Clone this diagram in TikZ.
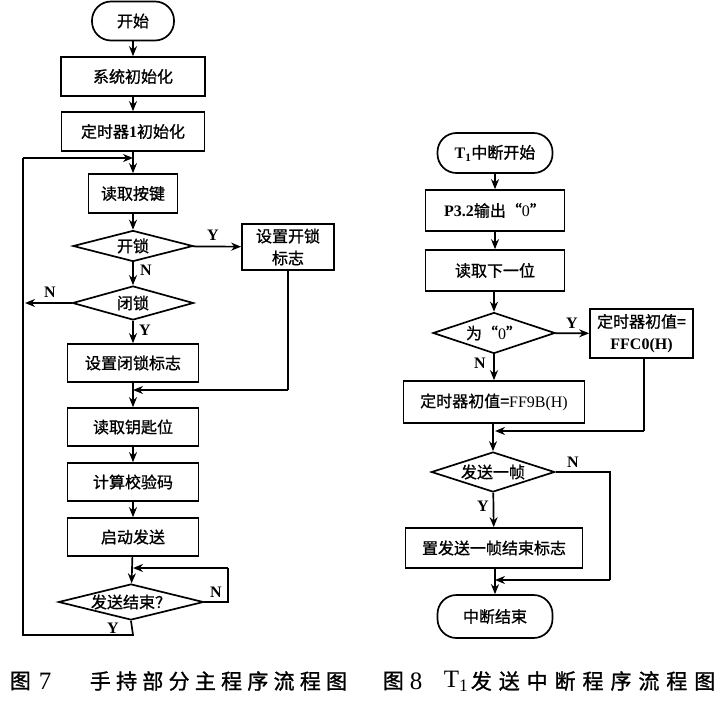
\documentclass[tikz,border=0pt]{standalone}
\usepackage{fontspec}
\setmainfont{Liberation Serif}
\newfontfamily\cjk[FakeBold=1]{Noto Sans CJK SC}
\newfontfamily\capcjka[LetterSpace=25,FakeBold=1.2]{Noto Sans CJK SC}
\newfontfamily\capcjkb[LetterSpace=33,FakeBold=1.2]{Noto Sans CJK SC}
\usetikzlibrary{shapes.geometric,arrows.meta}
\newcommand{\lat}{\rmfamily\bfseries}
\begin{document}
\begin{tikzpicture}[x=1pt,y=-1pt,
  line width=1.7pt,
  procbox/.style={draw, rectangle, inner sep=0pt, align=center, font=\fontsize{16}{22}\selectfont\cjk},
  termbox/.style={draw, rectangle, rounded corners=19pt, inner sep=0pt, font=\fontsize{16}{20}\selectfont\cjk},
  decbox/.style={draw, diamond, aspect=4, inner sep=0pt, font=\fontsize{16}{20}\selectfont\cjk},
  arr/.style={-{Stealth[length=10pt,width=8pt]}},
  lbl/.style={inner sep=0pt, font=\fontsize{16}{16}\selectfont\rmfamily\bfseries},
  capt/.style={anchor=west, inner sep=0pt, font=\fontsize{21}{22}\selectfont},
  captlat/.style={anchor=west, inner sep=0pt, font=\fontsize{25}{26}\selectfont\rmfamily}
]
\fill[white] (0,0) rectangle (722,709);
\useasboundingbox (0,0) rectangle (722,709);

% ---------- Figure 7 ----------
\node[termbox, minimum width=82pt, minimum height=39pt] (s) at (133,21) {开始};
\node[procbox, minimum width=144pt, minimum height=39pt] (sys) at (133,76.5) {系统初始化};
\node[procbox, minimum width=143pt, minimum height=39pt] (tmr) at (133,131.5) {定时器{\lat 1}初始化};
\node[procbox, minimum width=89pt, minimum height=39pt] (key) at (133,193.5) {读取按键};
\node[decbox, minimum width=120pt, minimum height=31pt] (ul) at (133,246) {开锁};
\node[procbox, minimum width=92pt, minimum height=46pt] (sul) at (288,247) {设置开锁\\标志};
\node[decbox, minimum width=121pt, minimum height=34pt] (lk) at (133,303) {闭锁};
\node[procbox, minimum width=131pt, minimum height=38pt] (slk) at (133,363) {设置闭锁标志};
\node[procbox, minimum width=131pt, minimum height=38pt] (rkp) at (133,427) {读取钥匙位};
\node[procbox, minimum width=131pt, minimum height=38pt] (chk) at (133,482) {计算校验码};
\node[procbox, minimum width=131pt, minimum height=38pt] (snd) at (133,537) {启动发送};
\node[decbox, minimum width=145pt, minimum height=36pt] (eq) at (131,602) {发送结束？};

\coordinate (j1) at (133,158);
\coordinate (lb) at (133,635);
\coordinate (lbl) at (23,635);
\coordinate (ltl) at (23,158);
\coordinate (lkl) at (23,303);
\coordinate (sulb) at (288,390);
\coordinate (j2) at (133,390);
\coordinate (eqr) at (228,602);
\coordinate (eqrt) at (228,568);
\coordinate (j3) at (133,568);

\draw[arr] (s) -- (sys);
\draw[arr] (sys) -- (tmr);
\draw[arr] (tmr) -- (key);
\draw[arr] (key) -- (ul);
\draw[arr] (ul) -- (sul);
\draw[arr] (ul) -- (lk);
\draw[arr] (lk.west) -- ([xshift=2pt]lkl);
\draw[arr] (lk) -- (slk);
\draw[arr] (slk) -- (rkp);
\draw (sul) -- (sulb);
\draw[arr] (sulb) -- (j2);
\draw[arr] (rkp) -- (chk);
\draw[arr] (chk) -- (snd);
\draw[arr] (snd) -- (eq);
\draw (eq.east) -- (eqr) -- (eqrt);
\draw[arr] (eqrt) -- (j3);
\draw (eq.south) -- (lb) -- (lbl) -- (ltl);
\draw[arr] (ltl) -- (j1);

\node[lbl] (y1) at (213,235) {Y};
\node[lbl] (n1) at (146,270) {N};
\node[lbl] (n2) at (50,292) {N};
\node[lbl] (y2) at (145,330) {Y};
\node[lbl] (n3) at (216,592) {N};
\node[lbl] (y3) at (113,628) {Y};

% ---------- Figure 8 ----------
\node[termbox, minimum width=115pt, minimum height=40pt] (t) at (495,153) {{\lat T\textsubscript{1}}中断开始};
\node[procbox, minimum width=139pt, minimum height=41pt] (p) at (495,210.5) {{\lat P3.2}输出“{\rmfamily 0}”};
\node[procbox, minimum width=139pt, minimum height=41pt] (rn) at (495,270.5) {读取下一位};
\node[decbox, minimum width=122pt, minimum height=41pt] (z) at (494,333) {为“{\rmfamily 0}”};
\node[procbox, minimum width=103pt, minimum height=49pt] (fc) at (641.5,333.5) {定时器初值=\\{\lat FFC0(H)}};
\node[procbox, minimum width=181pt, minimum height=42pt] (f9) at (494,402) {定时器初值={\rmfamily FF9B(H)}};
\node[decbox, minimum width=121pt, minimum height=40pt] (fr) at (493,472) {发送一帧};
\node[procbox, minimum width=177pt, minimum height=40pt] (sf) at (494,548) {置发送一帧结束标志};
\node[termbox, minimum width=115pt, minimum height=43pt] (e) at (495,616.5) {中断结束};

\coordinate (fcb) at (644,431);
\coordinate (j4) at (495,431);
\coordinate (frr) at (610,472);
\coordinate (frb) at (610,580);
\coordinate (j5) at (495,580);

\draw[arr] (t) -- (p);
\draw[arr] (p) -- (rn);
\draw[arr] (rn.south -| z.north) -- (z);
\draw[arr] (z) -- (fc);
\draw[arr] (z) -- (f9);
\draw (fc.south -| fcb) -- (fcb);
\draw[arr] (fcb) -- (j4);
\draw[arr] (f9.south -| fr.north) -- (fr);
\draw (fr.east) -- (frr) -- (frb);
\draw[arr] (frb) -- (j5);
\draw[arr] (fr) -- (sf);
\draw[arr] (sf.south -| e.north) -- (e);

\node[lbl] (y4) at (572,323) {Y};
\node[lbl] (n4) at (480,363) {N};
\node[lbl] (n5) at (573,462) {N};
\node[lbl] (y5) at (483,506) {Y};

% ---------- Captions ----------
\node[capt] (c1a) at (9,681) {\capcjka 图};
\node[captlat] (c1b) at (38,681) {7};
\node[capt] (c1c) at (89,681) {\capcjka 手持部分主程序流程图};
\node[capt] (c2a) at (382,681) {\capcjkb 图};
\node[captlat] (c2b) at (409,681) {8};
\node[captlat] (c2c) at (443,681) {T\textsubscript{1}};
\node[capt] (c2d) at (470,681) {\capcjkb 发送中断程序流程图};
\end{tikzpicture}
\end{document}
